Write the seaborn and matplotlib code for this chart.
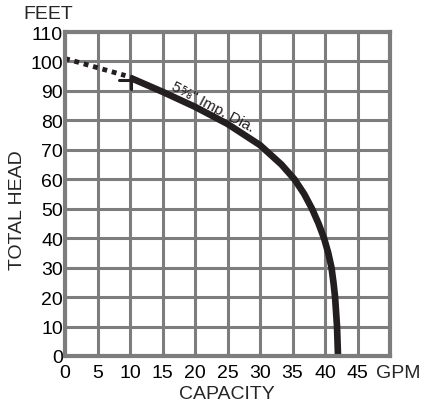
import matplotlib
matplotlib.use("Agg")
import matplotlib.pyplot as plt
import seaborn as sns
import pandas as pd

# pump curve (GPM, feet)
capacity = [10, 15, 20, 25, 30, 33.3, 35.3, 36.8, 38, 39.0, 39.85, 40.5, 41, 41.3, 41.55, 41.85, 42]
head = [94.5, 89.7, 84.6, 78.8, 71.6, 65, 60, 55, 50, 45, 40, 35, 30, 25, 20, 10, 0]

# dotted extension toward shutoff
dot_capacity = [0, 9.3]
dot_head = [101, 95.2]

x_ticks = [0, 5, 10, 15, 20, 25, 30, 35, 40, 45]
y_ticks = [0, 10, 20, 30, 40, 50, 60, 70, 80, 90, 100, 110]

curve = pd.DataFrame({"capacity": capacity, "head": head})
dots = pd.DataFrame({"capacity": dot_capacity, "head": dot_head})

sns.set_style("white")
plt.rcParams["font.family"] = ["Liberation Sans", "DejaVu Sans"]

grey = "#7d7d7d"
ink = "#231f20"

fig = plt.figure(figsize=(4.23, 4.06), dpi=100)
ax = fig.add_axes([65 / 423, 1 - 357 / 406, 325 / 423, 324 / 406])

ax.set_xlim(0, 50)
ax.set_ylim(0, 110)
ax.set_xticks(list(range(0, 51, 5)))
ax.set_yticks(y_ticks)
ax.set_xticklabels([str(v) for v in x_ticks] + [""])
ax.set_yticklabels([str(v) for v in y_ticks])
ax.grid(True, color=grey, linewidth=2.2)
ax.set_axisbelow(True)
ax.tick_params(axis="both", length=0, labelsize=14, colors="black")
ax.tick_params(axis="x", pad=6)
ax.tick_params(axis="y", pad=1.5)
for s in ax.spines.values():
    s.set_color(grey)
    s.set_linewidth(3)
    s.set_visible(True)

sns.lineplot(data=curve, x="capacity", y="head", ax=ax, color=ink,
             linewidth=4.8, solid_capstyle="butt", solid_joinstyle="round",
             clip_on=False)
sns.lineplot(data=dots, x="capacity", y="head", ax=ax, color=ink,
             linewidth=3.5, linestyle=(0, (1, 1)), dash_capstyle="butt")

# little start mark where solid line begins
ax.plot([8.3, 10.1], [93.8, 93.8], color=ink, linewidth=2.2)
ax.plot([10.1, 10.1], [95, 90.5], color=ink, linewidth=2.2)

ax.text(22.8, 84.8, '5⅝" Imp. Dia.', rotation=-28, rotation_mode="anchor",
        ha="center", va="center", fontsize=11, color=ink)

ax.set_xlabel("")
ax.set_ylabel("")

fig.text(48 / 423, 1 - 14.5 / 406, "FEET", ha="center", va="center", fontsize=14)
fig.text(17 / 423, 1 - 210 / 406, "TOTAL HEAD", ha="center", va="center",
         rotation=90, fontsize=14)
fig.text(227 / 423, 1 - 395 / 406, "CAPACITY", ha="center", va="center", fontsize=14)
fig.text(376 / 423, 1 - 373.5 / 406, "GPM", ha="left", va="center", fontsize=14)

fig.savefig("out.png", dpi=100)
